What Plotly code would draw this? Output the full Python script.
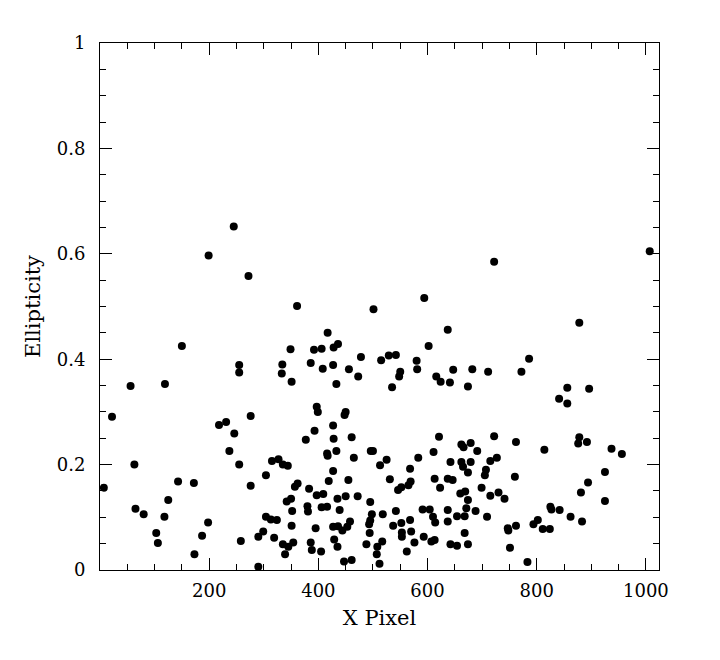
import plotly.graph_objects as go

x_pixel = [
    245, 1007,
    199, 272, 150, 56, 119, 255, 255, 334, 333, 349, 351,
    361, 501, 594, 417, 637, 392, 406, 428, 436, 602, 386, 408, 427, 433, 456, 473, 478,
    515, 529, 542, 550, 548, 535, 580, 581, 616, 624, 641, 647, 674, 682,
    722, 878, 786, 772, 711, 856, 896, 841, 856,
    22, 7, 63, 65, 80, 125, 118, 103, 106, 143, 172, 198, 187, 173, 218, 231, 276, 246,
    237, 255, 276, 304, 315, 327, 335, 344, 258, 290, 304, 313, 324, 290, 299, 319,
    397, 399, 450, 448, 427, 393, 377, 428, 461, 416, 417, 433, 465, 496, 500, 513, 525,
    427, 419, 455, 357, 362, 383, 397, 409, 435, 450, 472, 495, 342, 350, 352, 380, 381,
    406, 416, 439, 351, 395, 427, 436, 444, 453, 458, 335, 339, 345, 354, 386, 388, 405,
    429, 435, 447, 461, 495, 493, 498, 494, 488, 508, 517, 507, 512, 518, 531, 542, 546,
    552, 565, 569, 568, 583, 611, 621, 613, 637, 646, 623, 642, 662, 665, 662, 666, 679,
    679, 674, 691, 660, 669, 674, 591, 604, 610, 614, 637, 637, 654, 668, 671, 688, 537,
    552, 553, 553, 570, 568, 593, 607, 613, 576, 562, 642, 654, 674, 668,
    722, 762, 715, 727, 707, 705, 814, 878, 876, 892, 937, 956, 925, 894, 881, 925, 760,
    699, 715, 730, 741, 709, 825, 827, 842, 862, 883, 794, 802, 811, 824, 747, 748, 762,
    751, 783,
]

ellipticity = [
    0.652, 0.605,
    0.597, 0.558, 0.425, 0.349, 0.353, 0.389, 0.375, 0.390, 0.373, 0.419, 0.357,
    0.501, 0.495, 0.516, 0.450, 0.456, 0.418, 0.420, 0.422, 0.429, 0.425, 0.393, 0.382, 0.389, 0.353, 0.381, 0.367, 0.404,
    0.398, 0.407, 0.408, 0.376, 0.367, 0.347, 0.397, 0.381, 0.367, 0.357, 0.356, 0.380, 0.348, 0.381,
    0.585, 0.469, 0.401, 0.376, 0.376, 0.346, 0.344, 0.325, 0.316,
    0.291, 0.156, 0.200, 0.116, 0.106, 0.133, 0.101, 0.070, 0.051, 0.168, 0.165, 0.090, 0.065, 0.030, 0.275, 0.281, 0.292, 0.259,
    0.226, 0.200, 0.160, 0.180, 0.207, 0.210, 0.200, 0.198, 0.055, 0.006, 0.101, 0.096, 0.095, 0.063, 0.073, 0.061,
    0.310, 0.300, 0.300, 0.294, 0.274, 0.264, 0.247, 0.249, 0.252, 0.221, 0.217, 0.226, 0.213, 0.226, 0.226, 0.199, 0.209,
    0.188, 0.169, 0.171, 0.158, 0.164, 0.154, 0.142, 0.144, 0.135, 0.140, 0.140, 0.129, 0.130, 0.135, 0.112, 0.121, 0.111,
    0.119, 0.120, 0.114, 0.084, 0.079, 0.082, 0.083, 0.075, 0.082, 0.092, 0.049, 0.030, 0.044, 0.052, 0.052, 0.038, 0.035,
    0.058, 0.044, 0.016, 0.019, 0.094, 0.087, 0.106, 0.070, 0.049, 0.044, 0.054, 0.030, 0.012, 0.106, 0.172, 0.112, 0.152,
    0.157, 0.161, 0.168, 0.192, 0.213, 0.224, 0.253, 0.173, 0.173, 0.171, 0.156, 0.205, 0.205, 0.196, 0.238, 0.233, 0.241,
    0.205, 0.185, 0.226, 0.145, 0.149, 0.133, 0.115, 0.115, 0.101, 0.090, 0.114, 0.092, 0.102, 0.102, 0.117, 0.112, 0.084,
    0.089, 0.071, 0.063, 0.073, 0.095, 0.063, 0.054, 0.057, 0.052, 0.035, 0.049, 0.046, 0.049, 0.070,
    0.254, 0.243, 0.207, 0.213, 0.190, 0.180, 0.228, 0.252, 0.240, 0.243, 0.230, 0.220, 0.186, 0.166, 0.147, 0.131, 0.177,
    0.156, 0.141, 0.147, 0.135, 0.101, 0.120, 0.115, 0.114, 0.101, 0.092, 0.087, 0.095, 0.078, 0.078, 0.079, 0.075, 0.084,
    0.042, 0.015,
]

x_ticks = [200, 400, 600, 800, 1000]
y_ticks = [0, 0.2, 0.4, 0.6, 0.8, 1]
y_tick_text = ["0", "0.2", "0.4", "0.6", "0.8", "1"]

font_family = "DejaVu Serif"
tick_font = dict(family=font_family, size=18, color="black")
title_font = dict(family=font_family, size=21, color="black")

fig = go.Figure(
    go.Scatter(
        x=x_pixel, y=ellipticity, mode="markers",
        marker=dict(symbol="circle", size=8, color="black", line=dict(width=0)),
    )
)

axis_common = dict(
    showline=True, linecolor="black", linewidth=1, mirror="ticks",
    ticks="inside", ticklen=12, tickwidth=1, tickcolor="black",
    showgrid=False, zeroline=False,
    tickfont=tick_font,
)

fig.update_xaxes(
    range=[0, 1024], tickvals=x_ticks, ticktext=[str(v) for v in x_ticks],
    minor=dict(ticks="inside", ticklen=6, dtick=50, tick0=0, tickcolor="black", showgrid=False),
    title=dict(text="X Pixel", font=title_font, standoff=10),
    ticklabelstandoff=4,
    **axis_common,
)
fig.update_yaxes(
    range=[0, 1], tickvals=y_ticks, ticktext=y_tick_text,
    minor=dict(ticks="inside", ticklen=6, dtick=0.05, tick0=0, tickcolor="black", showgrid=False),
    title=dict(text="Ellipticity", font=title_font, standoff=10),
    ticklabelstandoff=10,
    **axis_common,
)

# page body has an 8px margin, so the figure is sized/positioned to compensate
fig.update_layout(
    width=712, height=652,
    margin=dict(l=92, r=61, t=35, b=90),
    paper_bgcolor="white", plot_bgcolor="white",
    showlegend=False,
)

fig.write_html("out.html")
